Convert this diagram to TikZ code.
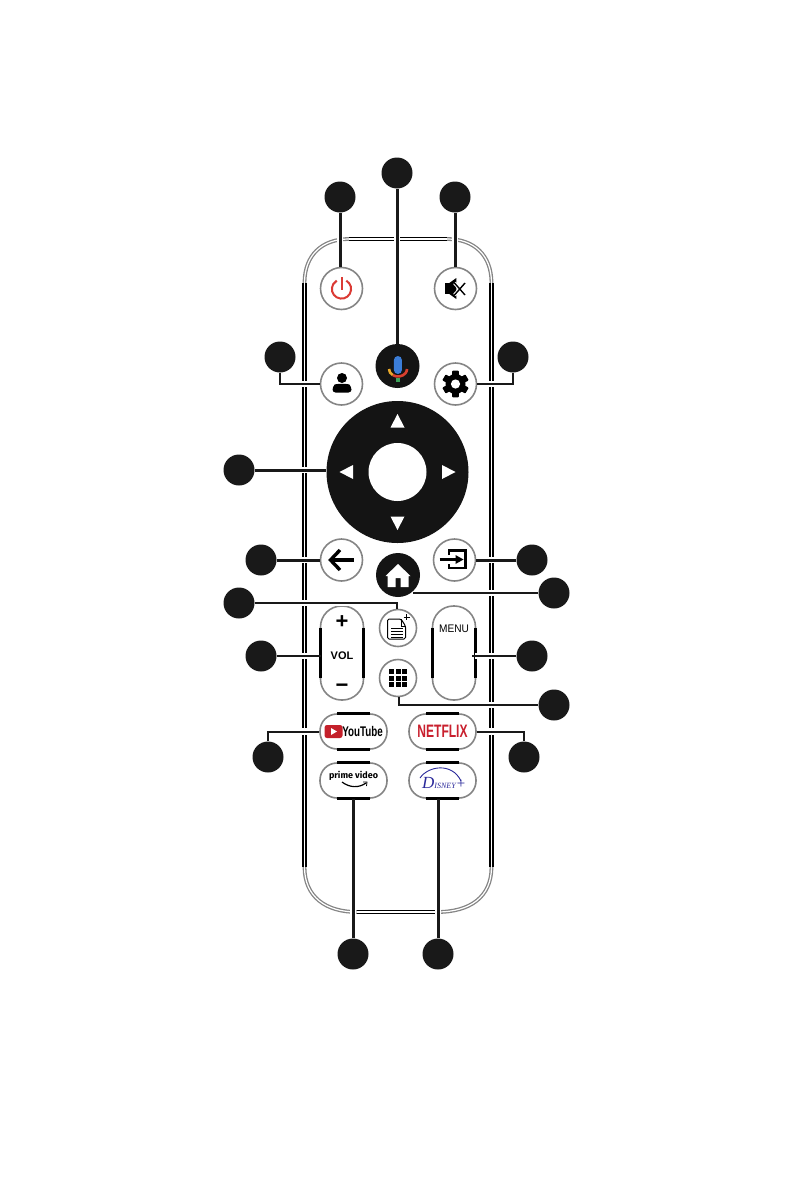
\documentclass[tikz,border=0pt]{standalone}
\usepackage{fontspec}
\setmainfont{Liberation Sans}
\newfontfamily\firafont{Fira Sans}
\newfontfamily\plusfont{Liberation Serif}
\usetikzlibrary{calc,positioning}
\definecolor{rimgray}{gray}{0.52}
\definecolor{powerred}{HTML}{DB3A34}
\definecolor{flixred}{HTML}{C9202E}
\definecolor{tubered}{HTML}{C4202A}
\definecolor{plusblue}{HTML}{2B2A9B}
\definecolor{micblue}{HTML}{3B7DD8}
\definecolor{micred}{HTML}{D8402F}
\definecolor{micyellow}{HTML}{E9A92B}
\definecolor{micgreen}{HTML}{3DA35A}
\tikzset{
    callout/.style={circle,fill=black!90,inner sep=0pt,minimum size=31pt},
    roundkey/.style={circle,draw=rimgray,line width=1.6pt,fill=white,inner sep=0pt,minimum size=42pt},
    smallkey/.style={roundkey,minimum size=37pt},
    blackkey/.style={circle,fill=black!92,inner sep=0pt,minimum size=44pt},
    longkey/.style={rectangle,rounded corners=21pt,draw=rimgray,line width=1.6pt,fill=white,inner sep=0pt,minimum width=43pt,minimum height=94pt},
    pillkey/.style={rectangle,rounded corners=17pt,draw=rimgray,line width=1.6pt,fill=white,inner sep=0pt,minimum width=67pt,minimum height=35pt},
    wire/.style={draw=black!90,line width=2pt,preaction={draw=white,line width=6.5pt,shorten >=3pt,shorten <=3pt}},
    thickwire/.style={wire,line width=3pt},
    rimblack/.style={draw=black,line width=1.7pt,double=white,double distance=1.5pt},
    rimcorner/.style={draw=rimgray,line width=1.3pt,double=white,double distance=1.2pt},
    keybar/.style={draw=black,line width=3pt},
    whiteicon/.style={fill=white,draw=none}
}
\begin{document}
\begin{tikzpicture}[x=1pt,y=-1pt]
    \useasboundingbox (0,0) rectangle (794,1191);
    % remote body
    \path[rimcorner] (304.5,283) .. controls (304.5,255) and (322,239) .. (349,239);
    \path[rimcorner] (491.5,283) .. controls (491.5,255) and (474,239) .. (447,239);
    \path[rimcorner] (304.5,867) .. controls (304.5,897) and (326,912) .. (357,912);
    \path[rimcorner] (491.5,867) .. controls (491.5,897) and (470,912) .. (437,912);
    \path[rimblack] (304.5,283) -- (304.5,867);
    \path[rimblack] (491.5,283) -- (491.5,867);
    \path[rimblack] (349,239) -- (447,239);
    \path[rimblack] (357,912) -- (437,912);

    % keys
    \node[roundkey] (power) at (341.5,288.5) {};
    \node[roundkey] (mute) at (455.5,288.5) {};
    \node[roundkey] (user) at (341.5,384) {};
    \node[roundkey] (gear) at (455.5,384) {};
    \node[blackkey] (mic) at (397.5,366) {};
    \node[circle,fill=black!92,inner sep=0pt,minimum size=142pt] (dpad) at (397.5,472) {};
    \node[circle,fill=white,inner sep=0pt,minimum size=58pt] (ok) at (397.5,472) {};
    \node[roundkey] (back) at (341.5,560) {};
    \node[roundkey] (input) at (454.5,560) {};
    \node[blackkey] (home) at (398,575) {};
    \node[smallkey] (doc) at (398,628) {};
    \node[smallkey] (apps) at (398,678) {};
    \node[longkey] (vol) at (342,653) {};
    \node[longkey] (menu) at (454,653) {};
    \node[pillkey] (youtube) at (353.5,731.5) {};
    \node[pillkey] (netflix) at (442.5,731.5) {};
    \node[pillkey] (prime) at (353.5,780.5) {};
    \node[pillkey] (disney) at (442.5,780.5) {};

    % black parts of the key outlines
    \foreach \name in {youtube,netflix,prime,disney} {
        \draw[keybar] ($(\name.north)+(-16.5,0)$) -- ($(\name.north)+(16.5,0)$);
        \draw[keybar] ($(\name.south)+(-16.5,0)$) -- ($(\name.south)+(16.5,0)$);
    }
    \foreach \name in {vol,menu} {
        \draw[keybar] ($(\name.center)+(-21.5,-25)$) -- ($(\name.center)+(-21.5,25)$);
        \draw[keybar] ($(\name.center)+(21.5,-25)$) -- ($(\name.center)+(21.5,25)$);
    }

    % number markers
    \foreach \name/\px/\py in {cPower/340/197,cMic/397/173,cMute/455/197,cUser/280/357,cGear/513/357,
        cPad/239/470,cBack/261/560,cInput/532/560,cDoc/239/603,cHome/554/593,cVol/261/656,cMenu/532/656,
        cApps/554/705,cTube/268/757,cFlix/524/757,cPrime/353/954,cPlus/438/954} {
        \node[callout] (\name) at (\px,\py) {};
    }

    % connectors
    \path[thickwire] (cPower) -- (cPower |- power.north);
    \path[thickwire] (cMic) -- (cMic |- mic.north);
    \path[thickwire] (cMute) -- (cMute |- mute.north);
    \path[wire] (cUser) |- (user);
    \path[wire] (cGear) |- (gear);
    \path[thickwire] (cPad) -- (cPad -| dpad.west);
    \path[thickwire] (cBack) -- (back);
    \path[thickwire] (cInput) -- (input);
    \path[wire] (cDoc) -| ([xshift=-1pt]doc.north);
    \path[wire] (cHome) -- (cHome -| home.-48);
    \path[wire,line width=2.4pt] (cVol) -- ($(cVol -| vol.west)+(1,0)$);
    \path[wire,line width=2.4pt] (cMenu) -- ($(cMenu -| menu.east)+(-4,0)$);
    \path[wire] (cApps) -| ([xshift=1pt]apps.south);
    \path[wire] (cTube) |- (youtube);
    \path[wire] (cFlix) |- (netflix);
    \path[thickwire] (cPrime) -- (cPrime |- prime.south);
    \path[thickwire] (cPlus) -- (cPlus |- disney.south);

    % power
    \begin{scope}[shift={(power)}]
        \draw[powerred,line width=2pt] (4.8,-7.8) arc[start angle=-60,end angle=240,radius=9.6];
        \draw[powerred,line width=2pt] (0,-11.5) -- (0,1);
    \end{scope}
    % mute
    \begin{scope}[shift={(mute)}]
        \fill[black] (-10.5,-5.5) rectangle (-6,5.5);
        \fill[black] (-6.2,-5.5) -- (0.8,-10.5) -- (0.8,10.5) -- (-6.2,5.5) -- cycle;
        \draw[white,line width=3.4pt] (-1,-5.5) -- (9.5,6.5) (-1,6.5) -- (9.5,-5.5);
        \draw[black,line width=1.4pt] (-1,-5.5) -- (9.5,6.5) (-1,6.5) -- (9.5,-5.5);
    \end{scope}
    % user
    \begin{scope}[shift={(user)}]
        \fill[black] (0.5,-6) circle (5);
        \fill[black,rounded corners=3pt] (-9,8.5) -- (-9,3) .. controls (-6,-0.5) and (7,-0.5) .. (10,3) -- (10,8.5) -- cycle;
    \end{scope}
    % gear
    \begin{scope}[shift={(gear)}]
        \foreach \a in {0,60,...,300} {
            \fill[black,rotate=\a,rounded corners=0.8pt] (-3.4,-13.3) rectangle (3.4,0);
        }
        \fill[black] (0,0) circle (10);
        \fill[white] (0,0) circle (4.6);
    \end{scope}
    % mic
    \begin{scope}[shift={(mic)}]
        \fill[micblue,rounded corners=4pt] (-3.6,-10) rectangle (4.4,8);
        \draw[micyellow,line width=2.6pt] (-8.5,3) arc[start angle=180,end angle=125,x radius=9,y radius=7.5];
        \draw[micred,line width=2.6pt] ($(0.5,3)+(125:9 and 7.5)$) arc[start angle=125,end angle=0,x radius=9,y radius=7.5];
        \fill[micgreen] (-1.5,12) rectangle (2.5,15.5);
    \end{scope}
    % arrows of the pad
    \begin{scope}[shift={(dpad)}]
        \foreach \a in {0,90,180,270} {
            \fill[white,rotate=\a] (-7,-44.5) -- (0,-58) -- (7,-44.5) -- cycle;
        }
    \end{scope}
    % back
    \begin{scope}[shift={(back)}]
        \draw[black,line width=3.4pt] (-11,0) -- (12,0);
        \draw[black,line width=3.4pt] (-1.5,-10) -- (-11,0) -- (-1.5,10);
    \end{scope}
    % input
    \begin{scope}[shift={(input)}]
        \draw[black,line width=2.2pt] (-5.5,-5) -- (-5.5,-9.5) -- (11,-9.5) -- (11,8) -- (-5.5,8) -- (-5.5,4);
        \draw[black,line width=3pt] (-15,-0.5) -- (2,-0.5);
        \fill[black] (1,-5) -- (9,-0.5) -- (1,4) -- cycle;
    \end{scope}
    % home
    \begin{scope}[shift={(home)}]
        \fill[whiteicon] (0,-11) -- (12.5,1) -- (10.5,1) -- (10.5,12) -- (2.5,12) -- (2.5,3) -- (-2.5,3) -- (-2.5,12) -- (-10.5,12) -- (-10.5,1) -- (-12.5,1) -- cycle;
    \end{scope}
    % document
    \begin{scope}[shift={(doc)}]
        \draw[black,line width=1pt,rounded corners=1.5pt,fill=white] (-10.5,-9) -- (3,-9) -- (7.5,-2) -- (7.5,11) -- (-10.5,11) -- cycle;
        \draw[black,line width=0.8pt] (3,-9) -- (3,-2) -- (7.5,-2);
        \foreach \ly in {0,3,6,9} {
            \draw[black,line width=0.8pt] (-7,\ly) -- (4.5,\ly);
        }
        \draw[black,line width=0.9pt] (8.5,-14) -- (8.5,-8) (5.5,-11) -- (11.5,-11);
    \end{scope}
    % apps
    \begin{scope}[shift={(apps)}]
        \foreach \gx in {-1,0,1} {
            \foreach \gy in {-1,0,1} {
                \fill[black] ({\gx*6.7-2.5},{\gy*6.7-2.5}) rectangle ++(5,5);
            }
        }
    \end{scope}

    % texts
    \node[font=\bfseries\fontsize{22}{22}\selectfont,inner sep=0pt] (volplus) at (342,622) {+};
    \node[font=\bfseries\fontsize{22}{22}\selectfont,inner sep=0pt] (volminus) at (342,688) {\textminus};
    \node[font=\bfseries\fontsize{11}{11}\selectfont,inner sep=0pt] (voltext) at (342,656) {VOL};
    \node[font=\fontsize{11}{11}\selectfont,inner sep=0pt,xscale=0.92] (menutext) at (454,629) {MENU};
    \node[fill=tubered,rounded corners=2.5pt,minimum width=18pt,minimum height=13pt,inner sep=0pt] (tubelogo) at (333.5,731.5) {};
    \fill[white] (331,728) -- (337,731.5) -- (331,735) -- cycle;
    \node[font=\bfseries\fontsize{14}{14}\selectfont,inner sep=0pt,xscale=0.7] (tubetext) at (362.5,731.5) {YouTube};
    \node[font=\bfseries\fontsize{18}{18}\selectfont,text=flixred,inner sep=0pt,xscale=0.67] (flixtext) at (442.5,731.5) {NETFLIX};
    \node[font=\firafont\bfseries\fontsize{9}{9}\selectfont,inner sep=0pt] (primetext) at (353.5,776) {prime video};
    \draw[black,line width=1.2pt] (342,782) .. controls (350,788) and (359,788) .. (366,783);
    \draw[black,line width=0.8pt] (363,782) -- (367,782) -- (366.5,786);
    \node[font=\plusfont\itshape\fontsize{8}{8}\selectfont,text=plusblue,inner sep=0pt,anchor=base] (plustext) at (444,788) {{\fontsize{17}{17}\selectfont D}ISNEY{\fontsize{15}{15}\selectfont +}};
    \draw[plusblue,line width=0.9pt] (420,778) .. controls (428,766) and (452,762) .. (461,781);
\end{tikzpicture}
\end{document}
